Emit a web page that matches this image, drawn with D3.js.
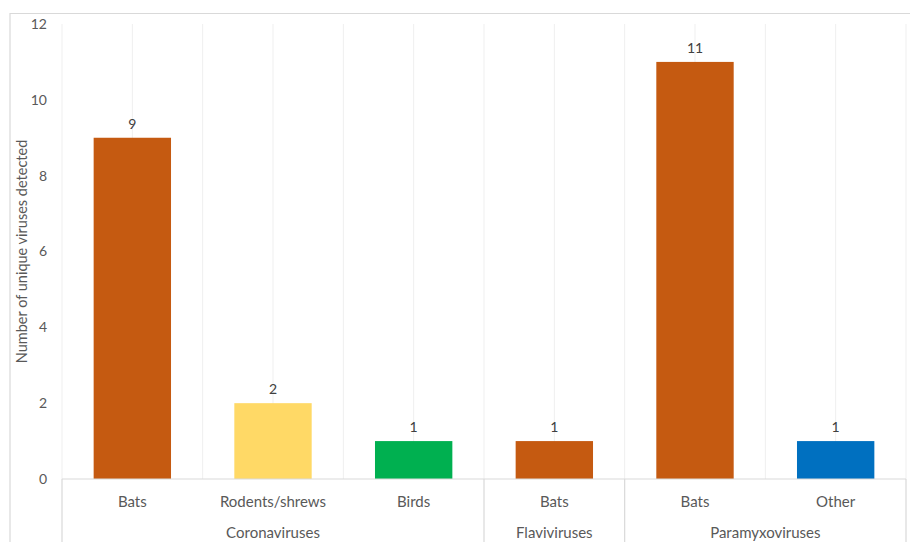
<!DOCTYPE html>
<html><head><meta charset="utf-8">
<script src="https://cdn.jsdelivr.net/npm/d3@7"></script>
<style>body{margin:0;background:#fff;} text{font-family:"Century Gothic","Lato","Open Sans",sans-serif;}</style>
</head><body>
<svg id="chart" width="910" height="542"></svg>
<script>
const groups = ["Coronaviruses","Coronaviruses","Coronaviruses","Flaviviruses","Paramyxoviruses","Paramyxoviruses"];
const categories = ["Bats","Rodents/shrews","Birds","Bats","Bats","Other"];
const values = [9,2,1,1,11,1];
const colors = ["#C55A11","#FFD966","#00B050","#C55A11","#C55A11","#0070C0"];
const yTicks = [0,2,4,6,8,10,12];
const yTitle = "Number of unique viruses detected";

(function(){
const svg = d3.select("#chart");
const pL = 62, pR = 906, pT = 24, pB = 479;
const ids = categories.map((c,i)=>i);
const x = d3.scaleBand().domain(ids).range([pL,pR]).paddingInner(0.45).paddingOuter(0.225);
const xc = d3.scaleBand().domain(ids).range([pL,pR]);
const y = d3.scaleLinear().domain([0,12]).range([pB,pT]);

// frame
svg.append("path").attr("d",`M10,542 V13.5 H910`).attr("fill","none").attr("stroke","#d9d9d9").attr("stroke-width",1.2);

// vertical gridlines at category centers and boundaries
const gl = [];
ids.forEach(i=>{ gl.push(xc(i)); gl.push(xc(i)+xc.bandwidth()/2); });
gl.push(pR);
svg.selectAll(".vg").data(gl).enter().append("line")
  .attr("x1",d=>d).attr("x2",d=>d).attr("y1",pT).attr("y2",pB)
  .attr("stroke","#efefef").attr("stroke-width",1);

// bars
svg.selectAll(".bar").data(ids).enter().append("rect")
  .attr("x",i=>x(i)).attr("width",x.bandwidth())
  .attr("y",i=>y(values[i])).attr("height",i=>y(0)-y(values[i]))
  .attr("fill",i=>colors[i]);

// value labels
svg.selectAll(".vl").data(ids).enter().append("text")
  .attr("x",i=>x(i)+x.bandwidth()/2).attr("y",i=>y(values[i])-9)
  .attr("text-anchor","middle").attr("font-size",14).attr("fill","#404040")
  .text(i=>values[i]);

// y axis
const yAxis = d3.axisLeft(y).tickValues(yTicks).tickSize(0).tickPadding(0);
const ya = svg.append("g").attr("transform",`translate(${pL-15},0)`).call(yAxis);
ya.select(".domain").remove();
ya.selectAll("text").attr("font-size",14).attr("fill","#595959").attr("font-family",'"Century Gothic","Lato","Open Sans",sans-serif');

svg.append("text").attr("transform",`translate(27,${(pT+pB)/2}) rotate(-90)`)
  .attr("text-anchor","middle").attr("font-size",14.5).attr("fill","#595959").text(yTitle);

// x axis
svg.append("line").attr("x1",pL).attr("x2",pR).attr("y1",pB).attr("y2",pB).attr("stroke","#d9d9d9").attr("stroke-width",1.2);
const sep = [pL];
for(let i=1;i<groups.length;i++) if(groups[i]!==groups[i-1]) sep.push(xc(i));
sep.push(pR);
svg.selectAll(".sep").data(sep).enter().append("line")
  .attr("x1",d=>d).attr("x2",d=>d).attr("y1",pB).attr("y2",542)
  .attr("stroke","#d9d9d9").attr("stroke-width",1.2);

svg.selectAll(".cl").data(ids).enter().append("text")
  .attr("x",i=>xc(i)+xc.bandwidth()/2).attr("y",507)
  .attr("text-anchor","middle").attr("font-size",15).attr("fill","#595959")
  .text(i=>categories[i]);

// group labels
const gnames = [...new Set(groups)];
gnames.forEach(g=>{
  const idx = ids.filter(i=>groups[i]===g);
  const cx = (xc(idx[0]) + xc(idx[idx.length-1]) + xc.bandwidth())/2;
  svg.append("text").attr("x",cx).attr("y",538).attr("text-anchor","middle")
    .attr("font-size",15).attr("fill","#595959").text(g);
});
})();
</script>
</body></html>
